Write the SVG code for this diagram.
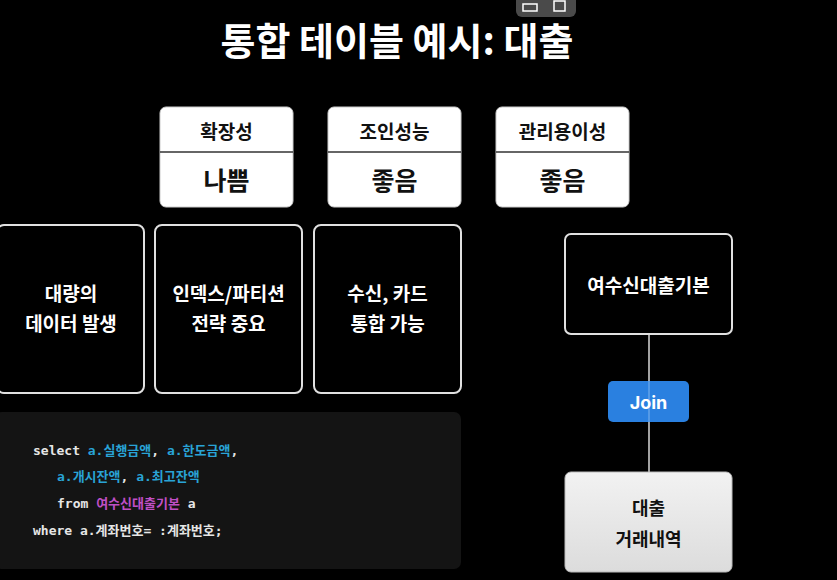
<svg xmlns="http://www.w3.org/2000/svg" width="837" height="580" viewBox="0 0 837 580">
<defs>
<linearGradient id="lg" x1="0" y1="0" x2="0" y2="1"><stop offset="0" stop-color="#f2f2f2"/><stop offset="1" stop-color="#dcdcdc"/></linearGradient>
</defs>
<style>
.k{font-family:"Noto Sans CJK KR","Noto Sans",sans-serif;font-weight:700;text-anchor:middle}
.hd{font-size:19px;fill:#111}
.vl{font-size:25px;fill:#111}
.wt{font-size:19px;fill:#fff}
.card{fill:#fff;stroke:#ccc;stroke-width:1}
.dark{fill:#000;stroke:#e0e0e0;stroke-width:2}
.code{font-family:"DejaVu Sans Mono","Noto Sans CJK KR",monospace;font-size:13px;font-weight:700;fill:#e6e6e6}
.cy{fill:#29a3d6}
.mg{fill:#c04fc6}
</style>
<rect width="837" height="580" fill="#000"/>
<rect x="516" y="-8" width="60" height="25" rx="6" fill="#4a4a4a"/>
<rect x="523" y="4" width="14" height="7" fill="none" stroke="#fff" stroke-width="1.5"/>
<rect x="554" y="1" width="11" height="10" fill="none" stroke="#fff" stroke-width="1.5"/>
<text class="k" x="397" y="55" font-size="38" fill="#fff">통합 테이블 예시: 대출</text>
<g id="card1">
<rect class="card" x="160" y="107" width="133" height="100" rx="6"/>
<line x1="160" y1="152" x2="293" y2="152" stroke="#333" stroke-width="1.5"/>
<text class="k hd" x="226.5" y="139">확장성</text>
<text class="k vl" x="226.5" y="190">나쁨</text>
</g>
<g id="card2">
<rect class="card" x="328" y="107" width="133" height="100" rx="6"/>
<line x1="328" y1="152" x2="461" y2="152" stroke="#333" stroke-width="1.5"/>
<text class="k hd" x="394.5" y="139">조인성능</text>
<text class="k vl" x="394.5" y="190">좋음</text>
</g>
<g id="card3">
<rect class="card" x="496" y="107" width="133" height="100" rx="6"/>
<line x1="496" y1="152" x2="629" y2="152" stroke="#333" stroke-width="1.5"/>
<text class="k hd" x="562.5" y="139">관리용이성</text>
<text class="k vl" x="562.5" y="190">좋음</text>
</g>
<g id="box1">
<rect class="dark" x="-3" y="225" width="147" height="168" rx="7"/>
<text class="k wt" x="71" y="301">대량의</text>
<text class="k wt" x="71" y="331">데이터 발생</text>
</g>
<g id="box2">
<rect class="dark" x="155" y="225" width="147" height="168" rx="7"/>
<text class="k wt" x="228.5" y="301">인덱스/파티션</text>
<text class="k wt" x="228.5" y="331">전략 중요</text>
</g>
<g id="box3">
<rect class="dark" x="314" y="225" width="147" height="168" rx="7"/>
<text class="k wt" x="387.5" y="301">수신, 카드</text>
<text class="k wt" x="387.5" y="331">통합 가능</text>
</g>
<g id="codeblock">
<rect x="-5" y="412" width="466" height="157" rx="7" fill="#141414"/>
<text class="code" x="33" y="455" xml:space="preserve">select <tspan class="cy">a.실행금액</tspan>, <tspan class="cy">a.한도금액</tspan>,</text>
<text class="code" x="57" y="481" xml:space="preserve"><tspan class="cy">a.개시잔액</tspan>, <tspan class="cy">a.최고잔액</tspan></text>
<text class="code" x="57" y="508" xml:space="preserve">from <tspan class="mg">여수신대출기본</tspan> a</text>
<text class="code" x="33" y="535" xml:space="preserve">where a.계좌번호= :계좌번호;</text>
</g>
<g id="connectors">
<line x1="649" y1="334" x2="649" y2="472" stroke="#d8d8d8" stroke-width="1.5"/>
</g>
<g id="master">
<rect class="dark" x="565" y="234" width="167" height="100" rx="6"/>
<text class="k wt" x="648.5" y="293" font-size="18">여수신대출기본</text>
</g>
<g id="join">
<rect x="608" y="381" width="81" height="41" rx="5" fill="#2a80e0"/>
<line x1="649" y1="381" x2="649" y2="422" stroke="#7fb4ee" stroke-width="1"/>
<text x="648.5" y="409" font-family="Inter,'Noto Sans',sans-serif" font-weight="700" font-size="18" fill="#fff" text-anchor="middle">Join</text>
</g>
<g id="detail">
<rect x="565" y="472" width="167" height="100" rx="6" fill="url(#lg)" stroke="#bbb" stroke-width="1"/>
<text class="k" x="648.5" y="515" font-size="18" fill="#111">대출</text>
<text class="k" x="648.5" y="546" font-size="18" fill="#111">거래내역</text>
</g>
</svg>
